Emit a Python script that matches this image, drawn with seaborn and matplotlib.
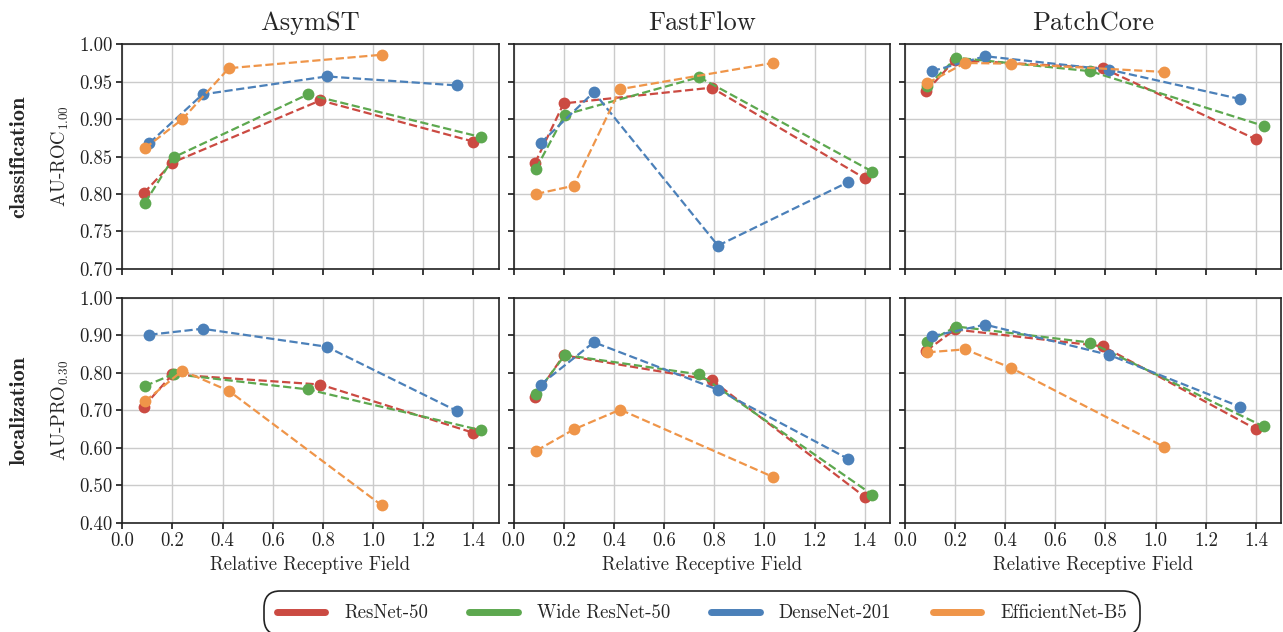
import numpy as np
import pandas as pd
import matplotlib
matplotlib.use("Agg")
import matplotlib.pyplot as plt
import seaborn as sns
from matplotlib.lines import Line2D

methods = ["AsymST", "FastFlow", "PatchCore"]
backbones = ["ResNet-50", "Wide ResNet-50", "DenseNet-201", "EfficientNet-B5"]
colors = ["#cb4a42", "#5da84f", "#4b80b9", "#ef9549"]

# relative receptive field per backbone
rf = {
    "ResNet-50": [0.085, 0.20, 0.79, 1.40],
    "Wide ResNet-50": [0.09, 0.205, 0.74, 1.43],
    "DenseNet-201": [0.108, 0.32, 0.815, 1.335],
    "EfficientNet-B5": [0.09, 0.24, 0.425, 1.035],
}

# classification AU-ROC
cls_asymst = {
    "ResNet-50": [0.801, 0.842, 0.925, 0.870],
    "Wide ResNet-50": [0.788, 0.849, 0.933, 0.876],
    "DenseNet-201": [0.868, 0.933, 0.957, 0.945],
    "EfficientNet-B5": [0.861, 0.900, 0.968, 0.986],
}
cls_fastflow = {
    "ResNet-50": [0.841, 0.921, 0.942, 0.821],
    "Wide ResNet-50": [0.834, 0.906, 0.956, 0.830],
    "DenseNet-201": [0.868, 0.936, 0.731, 0.816],
    "EfficientNet-B5": [0.800, 0.811, 0.940, 0.975],
}
cls_patchcore = {
    "ResNet-50": [0.937, 0.979, 0.968, 0.873],
    "Wide ResNet-50": [0.944, 0.982, 0.964, 0.891],
    "DenseNet-201": [0.964, 0.984, 0.966, 0.927],
    "EfficientNet-B5": [0.948, 0.975, 0.974, 0.963],
}
# localization AU-PRO
loc_asymst = {
    "ResNet-50": [0.710, 0.796, 0.769, 0.640],
    "Wide ResNet-50": [0.765, 0.797, 0.756, 0.647],
    "DenseNet-201": [0.902, 0.918, 0.870, 0.698],
    "EfficientNet-B5": [0.724, 0.806, 0.752, 0.446],
}
loc_fastflow = {
    "ResNet-50": [0.736, 0.847, 0.781, 0.469],
    "Wide ResNet-50": [0.745, 0.848, 0.796, 0.475],
    "DenseNet-201": [0.769, 0.882, 0.755, 0.570],
    "EfficientNet-B5": [0.592, 0.649, 0.702, 0.522],
}
loc_patchcore = {
    "ResNet-50": [0.859, 0.916, 0.871, 0.650],
    "Wide ResNet-50": [0.882, 0.924, 0.881, 0.657],
    "DenseNet-201": [0.898, 0.929, 0.848, 0.710],
    "EfficientNet-B5": [0.855, 0.863, 0.813, 0.602],
}

cls_ticks = [0.70, 0.75, 0.80, 0.85, 0.90, 0.95, 1.00]
loc_ticks = [0.40, 0.50, 0.60, 0.70, 0.80, 0.90, 1.00]
x_ticks = [0.0, 0.2, 0.4, 0.6, 0.8, 1.0, 1.2, 1.4]

sns.set_theme(style="whitegrid")
plt.rcParams.update({
    "font.family": ["cmr10", "DejaVu Serif"],
    "mathtext.fontset": "cm",
    "axes.formatter.use_mathtext": True,
    "axes.edgecolor": "#222222",
    "axes.linewidth": 1.2,
    "grid.color": "#cbcbcb",
    "grid.linewidth": 1.0,
    "xtick.bottom": True,
    "ytick.left": True,
    "xtick.major.size": 4,
    "ytick.major.size": 4,
    "xtick.color": "#222222",
    "ytick.color": "#222222",
})

def to_df(scores):
    rows = []
    for b in backbones:
        for x, y in zip(rf[b], scores[b]):
            rows.append({"rf": x, "score": y, "backbone": b})
    return pd.DataFrame(rows)

data = [[cls_asymst, cls_fastflow, cls_patchcore],
        [loc_asymst, loc_fastflow, loc_patchcore]]

fig, axes = plt.subplots(2, 3, figsize=(12.83, 6.32), dpi=100, sharex=True)
fig.subplots_adjust(left=0.0953, right=0.9985, top=0.930, bottom=0.173,
                    wspace=0.04, hspace=0.13)

pal = dict(zip(backbones, colors))
for r in range(2):
    for c in range(3):
        ax = axes[r, c]
        df = to_df(data[r][c])
        sns.lineplot(data=df, x="rf", y="score", hue="backbone", palette=pal,
                     hue_order=backbones, marker="o", markersize=8.5,
                     markeredgewidth=0, linestyle="--", linewidth=1.6,
                     legend=False, ax=ax)
        ax.set_xlim(0, 1.5)
        ax.set_xticks(x_ticks)
        if r == 0:
            ax.set_ylim(0.70, 1.00)
            ax.set_yticks(cls_ticks)
            ax.set_title(methods[c], fontsize=19, pad=10)
            ax.tick_params(axis="x", labelbottom=False)
            ax.set_xlabel("")
        else:
            ax.set_ylim(0.40, 1.00)
            ax.set_yticks(loc_ticks)
            ax.set_xticklabels([f"{t:.1f}" for t in x_ticks])
            ax.set_xlabel("Relative Receptive Field", fontsize=13.5)
        if c == 0:
            ticks = cls_ticks if r == 0 else loc_ticks
            ax.set_yticklabels([f"{t:.2f}" for t in ticks])
            ax.set_ylabel(r"AU-ROC$_{1.00}$" if r == 0 else r"AU-PRO$_{0.30}$",
                          fontsize=13.5, labelpad=6)
        else:
            ax.tick_params(axis="y", labelleft=False)
            ax.set_ylabel("")
        ax.tick_params(labelsize=13.5, pad=3)
        for s in ax.spines.values():
            s.set_visible(True)

fig.text(0.0145, 0.752, "classification", rotation=90,
         va="center", ha="center", fontsize=16, family="cmb10")
fig.text(0.0145, 0.350, "localization", rotation=90,
         va="center", ha="center", fontsize=16, family="cmb10")

handles = [Line2D([0], [0], color=col, lw=5) for col in colors]
leg = fig.legend(handles, backbones, loc="lower center", ncol=4,
                 bbox_to_anchor=(0.547, -0.02), fontsize=13.5, frameon=True,
                 fancybox=True, edgecolor="#222222", handlelength=2.6,
                 columnspacing=2.2, borderpad=0.7, handletextpad=1.0)
frame = leg.get_frame()
frame.set_linewidth(1.2)
frame.set_alpha(1)
frame.set_boxstyle("round,pad=0,rounding_size=0.9")

fig.savefig("out.png", dpi=100)
